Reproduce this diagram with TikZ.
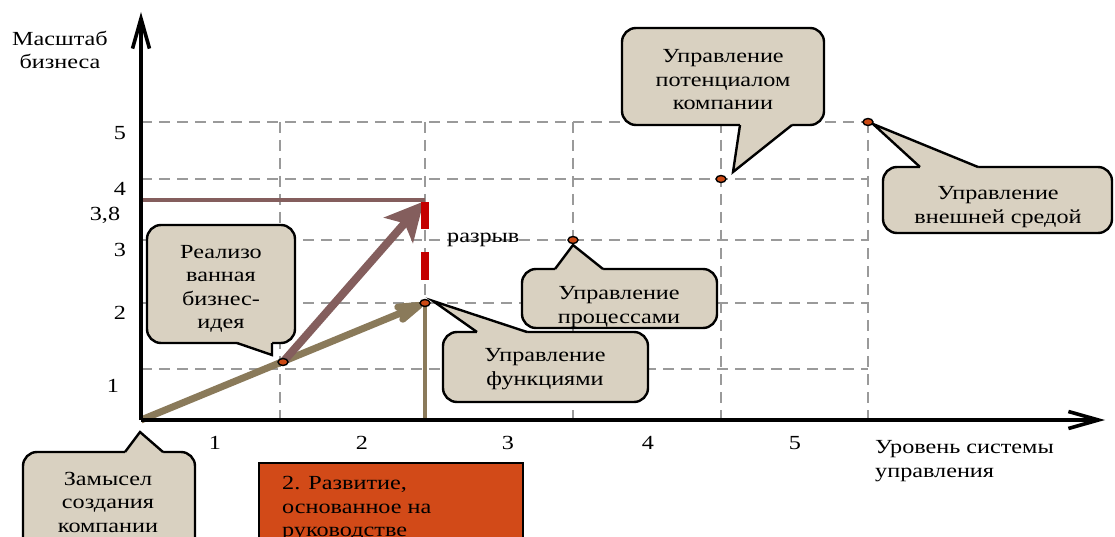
\documentclass[tikz,border=0pt]{standalone}
\usepackage{fontspec}
\setmainfont{Liberation Serif}[FakeStretch=1.21]
\usetikzlibrary{arrows.meta}
\definecolor{cfill}{HTML}{D9D1C1}
\definecolor{tanc}{HTML}{8A7A5A}
\definecolor{mauvec}{HTML}{845E5D}
\definecolor{redc}{HTML}{C40000}
\definecolor{orangec}{HTML}{D24A18}
\definecolor{dotc}{HTML}{CC4A14}
\definecolor{gridc}{HTML}{9A9A9A}
\tikzset{
  gridline/.style={draw=gridc, line width=1.8pt, dash pattern=on 11pt off 7pt},
  boxfill/.style={fill=cfill, draw=black, line width=2.4pt, rounded corners=14pt},
  ptrfill/.style={fill=cfill},
  ptrline/.style={draw=black, line width=2.4pt, line join=miter},
  ctext/.style={align=center, inner sep=0pt},
  lbl/.style={inner sep=0pt},
  dotmark/.style={draw=black, fill=dotc, line width=1.4pt},
  axis/.style={draw=black, line width=3.6pt, -{Straight Barb[length=30pt,width=17pt]}}
}
\begin{document}
\begin{tikzpicture}[x=1pt,y=-1pt, every node/.style={font=\fontsize{20}{23.5}\selectfont}]
\useasboundingbox (0,0) rectangle (1115,537);
\fill[white] (0,0) rectangle (1115,537);

% key points
\coordinate (O) at (141,420);
\coordinate (P1) at (283,362);
\coordinate (P2) at (425,303);
\coordinate (P3) at (573,240);
\coordinate (P4) at (721,179);
\coordinate (P5) at (868,122);
\coordinate (T) at (425,200);
\coordinate (L) at (141,200);
\coordinate (B) at (425,420);
\coordinate (Ytop) at (141,12);
\coordinate (Xend) at (1105,420);

% grid
\foreach \x in {280,425,573,721,868} \draw[gridline] (\x,122) -- (\x,420);
\foreach \y in {122,179,240,303,369} \draw[gridline] (141,\y) -- (868,\y);

% trajectory lines
\draw[draw=tanc, line width=4pt] (P2) -- (B);
\draw[draw=mauvec, line width=4pt] (L) -- (T);
\draw[draw=tanc, line width=7pt, shorten >=3pt, -{Stealth[length=44pt,width=28pt,inset=14pt,round]}] (O) -- (P2);
\draw[draw=mauvec, line width=8pt, shorten >=2pt, -{Stealth[length=38pt,width=38pt,inset=9pt]}] (P1) -- (T);

% gap marks
\draw[draw=redc, line width=8pt] (425,202) -- (425,229);
\draw[draw=redc, line width=8pt] (425,252) -- (425,280);

% axes
\draw[axis] (O) -- (Ytop);
\draw[axis] (O) -- (Xend);

% callout 1
\path[boxfill] (147,225) rectangle (295,343);
\fill[ptrfill] (237,340) -- (237,343) -- (272,355) -- (272,343) -- (272,340) -- cycle;
\draw[ptrline] (237,343) -- (272,355) -- (272,343);
% callout 2
\path[boxfill] (443,332) rectangle (648,402);
\fill[ptrfill] (477,335) -- (477,332) -- (433,301) -- (527,332) -- (527,335) -- cycle;
\draw[ptrline] (477,332) -- (433,301) -- (527,332);
% callout 3
\path[boxfill] (522,269) rectangle (717,328);
\fill[ptrfill] (555,272) -- (555,269) -- (573,245) -- (603,269) -- (603,272) -- cycle;
\draw[ptrline] (555,269) -- (573,245) -- (603,269);
% callout 4
\path[boxfill] (622,28) rectangle (824,125);
\fill[ptrfill] (740,122) -- (740,125) -- (733,172) -- (792,125) -- (792,122) -- cycle;
\draw[ptrline] (740,125) -- (733,172) -- (792,125);
% callout 5
\path[boxfill] (883,167) rectangle (1112,233);
\fill[ptrfill] (920,170) -- (920,167) -- (873,124) -- (978,167) -- (978,170) -- cycle;
\draw[ptrline] (920,167) -- (873,124) -- (978,167);
% callout 6
\path[boxfill] (23,452) rectangle (195,570);
\fill[ptrfill] (125,455) -- (125,452) -- (140,432) -- (163,452) -- (163,455) -- cycle;
\draw[ptrline] (125,452) -- (140,432) -- (163,452);

% orange box
\path[fill=orangec, draw=black, line width=2.2pt] (259,463) rectangle (523,570);

% dots
\foreach \p in {P1,P2,P3,P4,P5} \path[dotmark] (\p) ellipse (5pt and 3.5pt);

% callout texts
\node[ctext] (t1) at (221,289) {Реализо\\ванная\\бизнес-\\идея};
\node[ctext] (t2) at (545,369) {Управление\\функциями};
\node[ctext] (t3) at (619,307) {Управление\\процессами};
\node[ctext] (t4) at (723,80) {Управление\\потенциалом\\компании};
\node[ctext] (t5) at (998,207) {Управление\\внешней средой};
\node[ctext] (t6) at (108,502) {Замысел\\создания\\компании};
\node[align=left, inner sep=0pt, anchor=west] (t7) at (282,509) {2. Развитие,\\основанное на\\руководстве};

% axis titles
\node[ctext] (ya) at (60,50) {Масштаб\\бизнеса};
\node[align=left, inner sep=0pt, anchor=west] (xa) at (875,461) {Уровень системы\\управления};
\node[lbl, anchor=west] (gap) at (447,240) {разрыв};

% y tick labels
\node[lbl] (y5) at (120,133) {5};
\node[lbl] (y4) at (120,189) {4};
\node[lbl] (y38) at (105,215) {3,8};
\node[lbl] (y3) at (120,250) {3};
\node[lbl] (y2) at (120,313) {2};
\node[lbl] (y1) at (113,386) {1};

% x tick labels
\node[lbl] (x1) at (215,443) {1};
\node[lbl] (x2) at (362,443) {2};
\node[lbl] (x3) at (508,443) {3};
\node[lbl] (x4) at (648,443) {4};
\node[lbl] (x5) at (795,443) {5};
\end{tikzpicture}
\end{document}
